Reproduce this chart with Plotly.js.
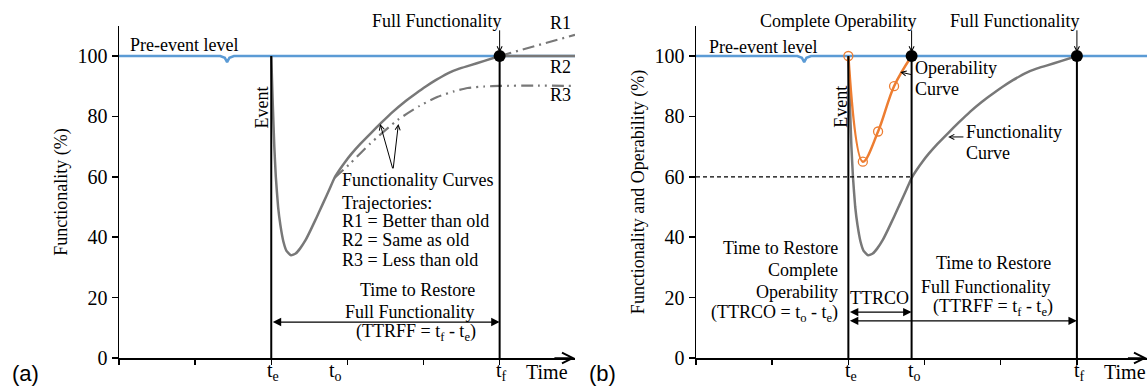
<!DOCTYPE html>
<html><head><meta charset="utf-8">
<script src="https://cdn.plot.ly/plotly-3.0.1.min.js"></script>
<style>html,body{margin:0;padding:0;background:#fff}#chart{width:1147px;height:390px}</style>
</head><body><div id="chart"></div>
<script>
// ---------- data ----------
const timeTickVals = [0, 1, 2, 3, 4, 5];
const timeLabelText = ['t<sub>e</sub>', 't<sub>o</sub>', 't<sub>f</sub>'];
const timeLabelPosA = [2.02, 2.85, 5.02];
const timeLabelPosB = [2.03, 2.87, 5.04];
const pctTickVals = [0, 20, 40, 60, 80, 100];

const preEventX = [0, 1.33, 1.39, 1.42, 1.45, 1.51, 6];
const preEventY = [100, 100, 99.4, 98, 99.4, 100, 100];

const funcX = [2.00, 2.02, 2.04, 2.06, 2.09, 2.12, 2.16, 2.20, 2.26, 2.32, 2.38, 2.45, 2.52, 2.60, 2.68, 2.76, 2.83, 2.90, 2.97, 3.05, 3.17, 3.31, 3.45, 3.60, 3.75, 3.90, 4.03, 4.16, 4.25, 4.34, 4.47, 4.60, 4.80, 5.00];
const funcY = [100, 84, 70, 60, 50, 44, 38.5, 35.5, 34, 34.6, 36.3, 39, 42.5, 46.8, 51.2, 55.6, 59.6, 62.4, 64.9, 67.5, 70.9, 74.5, 78, 81.6, 84.8, 87.6, 89.9, 92, 93.3, 94.5, 95.8, 96.8, 98.4, 100];

const r1X = [5, 5.99];
const r1Y = [100, 107];
const r2X = [5, 5.99];
const r2Y = [100, 100];
const r3X = [2.83, 3.04, 3.30, 3.66, 3.95, 4.18, 4.40, 4.58, 4.80, 5.00, 5.50, 5.99];
const r3Y = [59.6, 64.5, 71, 78.8, 83.5, 86.4, 88.3, 89.4, 89.9, 90.1, 90.2, 90.1];

const operX = [2.00, 2.19, 2.39, 2.60, 2.83];
const operY = [100, 65, 75, 90, 100];
const operMarkX = [2.00, 2.19, 2.39, 2.60];
const operMarkY = [100, 65, 75, 90];

const milestones = { te: 2, to: 2.83, tf: 5 };
const milestoneAX = [5];
const milestoneAY = [100];
const milestoneBX = [2.83, 5];
const milestoneBY = [100, 100];
const operThreshold = 60;

// ---------- styles ----------
const SERIF = 'Liberation Serif';
const SANS = 'Liberation Sans';
const BLUE = '#5B9BD5', GRAY = '#787878', ORANGE = '#ED7D31';
const Y_MAX = 110;
const yDom = [32 / 390, (390 - 25.8) / 390];
const yPaper = v => yDom[0] + v / Y_MAX * (yDom[1] - yDom[0]);

const traces = [
  {x: preEventX, y: preEventY, xaxis: 'x', yaxis: 'y', mode: 'lines', line: {color: BLUE, width: 2.5}},
  {x: funcX, y: funcY, xaxis: 'x', yaxis: 'y', mode: 'lines', line: {color: GRAY, width: 2.5, shape: 'spline', smoothing: 0.4}},
  {x: r2X, y: r2Y, xaxis: 'x', yaxis: 'y', mode: 'lines', line: {color: GRAY, width: 2.5}},
  {x: r1X, y: r1Y, xaxis: 'x', yaxis: 'y', mode: 'lines', line: {color: GRAY, width: 2.2, dash: '12px,5px,2px,5px'}, cliponaxis: false},
  {x: r3X, y: r3Y, xaxis: 'x', yaxis: 'y', mode: 'lines', line: {color: GRAY, width: 2.2, dash: '12px,5px,2px,5px,2px,5px', shape: 'spline', smoothing: 0.6}},
  {x: milestoneAX, y: milestoneAY, xaxis: 'x', yaxis: 'y', mode: 'markers', marker: {color: '#000', size: 12}, cliponaxis: false},

  {x: preEventX, y: preEventY, xaxis: 'x2', yaxis: 'y2', mode: 'lines', line: {color: BLUE, width: 2.5}},
  {x: funcX, y: funcY, xaxis: 'x2', yaxis: 'y2', mode: 'lines', line: {color: GRAY, width: 2.5, shape: 'spline', smoothing: 0.4}},
  {x: operX, y: operY, xaxis: 'x2', yaxis: 'y2', mode: 'lines', line: {color: ORANGE, width: 2.5, shape: 'spline', smoothing: 1}},
  {x: operMarkX, y: operMarkY, xaxis: 'x2', yaxis: 'y2', mode: 'markers', marker: {symbol: 'circle-open', color: ORANGE, size: 9, line: {width: 1.3}}, cliponaxis: false},
  {x: milestoneBX, y: milestoneBY, xaxis: 'x2', yaxis: 'y2', mode: 'markers', marker: {color: '#000', size: 12}, cliponaxis: false}
];

function xAxis(domain, range, anchor) {
  return {domain, range, anchor, tickvals: timeTickVals, showticklabels: false, ticks: 'outside', ticklen: 5,
    tickwidth: 1.5, tickcolor: '#000', showline: true, linewidth: 1.5, linecolor: '#000', showgrid: false,
    zeroline: false, fixedrange: true};
}
function yAxis(domain, anchor, title) {
  return {domain, range: [0, Y_MAX], anchor, tickvals: pctTickVals, ticks: 'outside', ticklen: 6,
    tickwidth: 1.5, tickcolor: '#000', showline: true, linewidth: 1.5, linecolor: '#000', showgrid: false,
    zeroline: false, tickfont: {family: SERIF, size: 20, color: '#000'}, fixedrange: true,
    title: {text: title, font: {family: SERIF, size: 18, color: '#000'}, standoff: 5}};
}

const layout = {
  width: 1147, height: 390, margin: {l: 0, r: 0, t: 0, b: 0}, showlegend: false,
  paper_bgcolor: '#fff', plot_bgcolor: 'rgba(0,0,0,0)',
  font: {family: SERIF, size: 18, color: '#000'},
  xaxis: xAxis([119 / 1147, 575 / 1147], [0, 5.99], 'y'),
  yaxis: yAxis(yDom, 'x', 'Functionality (%)'),
  xaxis2: xAxis([696 / 1147, 1], [0, 5.92], 'y2'),
  yaxis2: yAxis(yDom, 'x2', 'Functionality and Operability (%)'),
  shapes: [],
  annotations: []
};

const vline = (xr, yr, x) => ({type: 'line', xref: xr, yref: yr, x0: x, x1: x, y0: 0, y1: 100, line: {color: '#000', width: 2}});
layout.shapes.push(vline('x', 'y', milestones.te), vline('x', 'y', milestones.tf));
layout.shapes.push(vline('x2', 'y2', milestones.te), vline('x2', 'y2', milestones.to), vline('x2', 'y2', milestones.tf));
layout.shapes.push({type: 'line', xref: 'x2', yref: 'y2', x0: 0, x1: milestones.to, y0: operThreshold, y1: operThreshold, line: {color: '#000', width: 1.3, dash: '4px,3px'}});

const A = layout.annotations;
// text placed with x in data units and y converted to paper units (so it may sit outside the axis range)
function txt(xr, x, yv, text, xanchor, opts) {
  A.push(Object.assign({xref: xr, yref: 'paper', x, y: yPaper(yv), text, xanchor: xanchor || 'center', yanchor: 'middle', showarrow: false,
    font: {family: SERIF, size: 18, color: '#000'}}, opts || {}));
}
function arrow(xr, yr, x, y, ax, ay, opts) {
  A.push(Object.assign({xref: xr, yref: yr, axref: xr, ayref: yr, x, y, ax, ay, text: '', showarrow: true,
    arrowhead: 5, arrowsize: 1, arrowwidth: 1, arrowcolor: '#000', standoff: 0, startstandoff: 0}, opts || {}));
}
const dbl = {arrowhead: 2, startarrowhead: 2, arrowside: 'end+start', arrowsize: 1.3, startarrowsize: 1.3, arrowwidth: 1.3};
const tickFont = {font: {family: SERIF, size: 20, color: '#000'}};

// ---- panel (a) ----
txt('x', 0.855, 103.6, 'Pre-event level');
txt('x', 1.88, 83, 'Event', 'center', {textangle: -90});
txt('x', 4.18, 111.6, 'Full Functionality');
arrow('x', 'y', milestones.tf, 101.2, milestones.tf, 109);
txt('x', 5.8, 110.9, 'R1');
txt('x', 5.8, 96.4, 'R2');
txt('x', 5.8, 87.1, 'R3');
txt('x', 2.90, 58.9, 'Functionality Curves', 'left');
txt('x', 2.90, 51.3, 'Trajectories:', 'left');
txt('x', 2.90, 45.5, 'R1 = Better than old', 'left');
txt('x', 2.90, 39.1, 'R2 = Same as old', 'left');
txt('x', 2.90, 32.5, 'R3 = Less than old', 'left');
arrow('x', 'y', 3.43, 77.5, 3.6, 62.3);
arrow('x', 'y', 3.67, 77.5, 3.6, 62.3);
txt('x', 4.7, 22.5, 'Time to Restore', 'right');
txt('x', 4.7, 15.2, 'Full Functionality', 'right');
txt('x', 4.72, 8.3, '(TTRFF = t<sub>f</sub> - t<sub>e</sub>)', 'right');
arrow('x', 'y', milestones.tf, 11.9, milestones.te, 11.9, dbl);
arrow('x', 'y', 5.99, 0, 5.7, 0, {arrowhead: 5, arrowsize: 1.4, arrowwidth: 1.5});
timeLabelText.forEach((t, i) => txt('x', timeLabelPosA[i], -4.5, t, 'center', tickFont));
txt('x', 5.62, -4.8, 'Time', 'center', tickFont);
A.push({xref: 'paper', yref: 'paper', x: 25 / 1147, y: 17 / 390, text: '(a)', showarrow: false, xanchor: 'center', yanchor: 'middle',
  font: {family: SANS, size: 22, color: '#000'}});

// ---- panel (b) ----
txt('x2', 0.88, 103, 'Pre-event level');
txt('x2', 1.91, 83, 'Event', 'center', {textangle: -90});
txt('x2', 1.86, 111.6, 'Complete Operability');
arrow('x2', 'y2', milestones.to, 101.2, milestones.to, 109);
txt('x2', 4.19, 111.6, 'Full Functionality');
arrow('x2', 'y2', milestones.tf, 101.2, milestones.tf, 109);
txt('x2', 2.85, 96, 'Operability', 'left');
txt('x2', 2.85, 89, 'Curve', 'left');
arrow('x2', 'y2', 2.68, 94.7, 2.85, 93.7);
txt('x2', 3.52, 74.8, 'Functionality', 'left');
txt('x2', 3.52, 67.9, 'Curve', 'left');
arrow('x2', 'y2', 3.31, 73.2, 3.53, 73.2);
txt('x2', 1.89, 36.4, 'Time to Restore', 'right');
txt('x2', 1.89, 29.1, 'Complete', 'right');
txt('x2', 1.89, 21.9, 'Operability', 'right');
txt('x2', 1.89, 14.9, '(TTRCO = t<sub>o</sub> - t<sub>e</sub>)', 'right');
txt('x2', 2.41, 19.9, 'TTRCO');
arrow('x2', 'y2', milestones.to, 15.2, milestones.te, 15.2, dbl);
txt('x2', 4.69, 31.5, 'Time to Restore', 'right');
txt('x2', 4.69, 23.5, 'Full Functionality', 'right');
txt('x2', 4.71, 16.6, '(TTRFF = t<sub>f</sub> - t<sub>e</sub>)', 'right');
arrow('x2', 'y2', milestones.tf, 12.3, milestones.te, 12.3, dbl);
arrow('x2', 'y2', 5.92, 0, 5.65, 0, {arrowhead: 5, arrowsize: 1.4, arrowwidth: 1.5});
timeLabelText.forEach((t, i) => txt('x2', timeLabelPosB[i], -4.5, t, 'center', tickFont));
txt('x2', 5.63, -4.8, 'Time', 'center', tickFont);
A.push({xref: 'paper', yref: 'paper', x: 602 / 1147, y: 17 / 390, text: '(b)', showarrow: false, xanchor: 'center', yanchor: 'middle',
  font: {family: SANS, size: 22, color: '#000'}});

Plotly.newPlot('chart', traces, layout, {displayModeBar: false, staticPlot: true});
</script>
</body></html>
